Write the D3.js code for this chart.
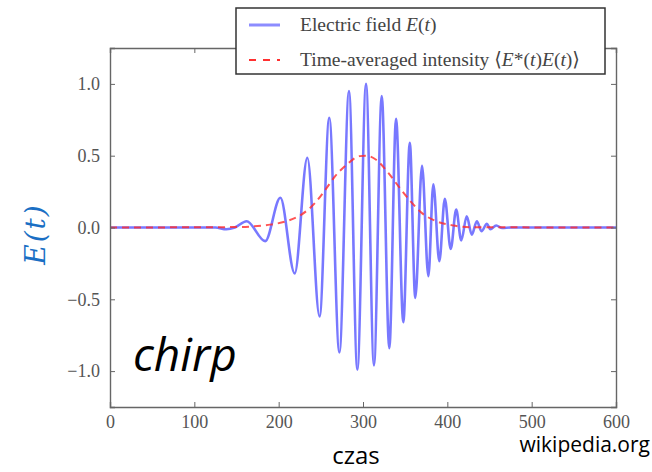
<!DOCTYPE html>
<html>
<head>
<meta charset="utf-8">
<script src="https://cdn.jsdelivr.net/npm/d3@7"></script>
<style>
    body { margin: 0; background: #fff; }
    svg { display: block; }
    .tick-label { font-family: "Liberation Serif", "DejaVu Serif", serif; font-size: 18px; fill: #555; }
    .legend-text { font-family: "Liberation Serif", "DejaVu Serif", serif; font-size: 19.5px; fill: #444; }
</style>
</head>
<body>
<svg id="vis_svg" width="652" height="472"></svg>
<script>
// electric field at the peaks and troughs
let fieldTimes = [0, 100, 125, 138, 148, 162, 184, 202, 219, 234, 248.5, 260, 272, 283.4, 293.3, 303.6,
    313, 322.2, 331.2, 339.2, 347.8, 355.5, 362, 370, 377.5, 383.4, 390.5, 397, 404, 410.5, 416.5, 423,
    429, 435, 440.5, 447, 451, 458, 465, 475, 600];
let fieldValues = [0, 0, 0, -0.012, 0.0, 0.044, -0.095, 0.207, -0.32, 0.486, -0.62, 0.764, -0.87, 0.95, -0.99, 1.0,
    -0.96, 0.915, -0.84, 0.757, -0.66, 0.59, -0.49, 0.43, -0.34, 0.30, -0.235, 0.20, -0.15, 0.125, -0.09, 0.078,
    -0.05, 0.044, -0.026, 0.026, -0.012, 0.014, -0.004, 0, 0];

// time-averaged intensity (red dashed)
let intensityTimes = [0, 150, 175, 190, 210, 227, 243, 255, 267, 281, 296, 304, 316, 330, 344, 356, 370, 387, 407, 430, 600];
let intensityValues = [0, 0.003, 0.01, 0.02, 0.045, 0.09, 0.17, 0.26, 0.357, 0.44, 0.497, 0.5, 0.47, 0.38, 0.272, 0.185, 0.10, 0.044, 0.014, 0.002, 0];

let xTicks = [0, 100, 200, 300, 400, 500, 600];
let yTicks = [-1.0, -0.5, 0.0, 0.5, 1.0];

let svg;
let x;
let y;

/**
 * Set up scales, then draw everything
 */
function drawVis() {
    svg = d3.select('svg#vis_svg');

    let left = 110, right = 616, top = 48, bottom = 407;

    x = d3.scaleLinear().domain([0, 600]).range([left, right]);
    y = d3.scaleLinear().domain([-1.25, 1.25]).range([bottom, top]);

    let plot = svg.append('g').attr('id', 'plot');

    // curves, clipped to the frame
    svg.append('clipPath').attr('id', 'clip')
        .append('rect')
        .attr('x', left).attr('y', top)
        .attr('width', right - left).attr('height', bottom - top);

    let curves = plot.append('g').attr('clip-path', 'url(#clip)');

    let line = d3.line()
        .curve(d3.curveMonotoneX)
        .x(d => x(d[0]))
        .y(d => y(d[1]));

    let field = fieldTimes.map((t, i) => [t, fieldValues[i]]);
    let intensity = intensityTimes.map((t, i) => [t, intensityValues[i]]);

    curves.append('path')
        .attr('d', line(field))
        .attr('fill', 'none')
        .attr('stroke', '#3030ff')
        .attr('stroke-opacity', 0.65)
        .attr('stroke-width', 2.6);

    curves.append('path')
        .attr('d', line(intensity))
        .attr('fill', 'none')
        .attr('stroke', '#ff2a2a')
        .attr('stroke-opacity', 0.8)
        .attr('stroke-width', 2)
        .attr('stroke-dasharray', '7,5');

    // axes, ticks point inward on all four sides (matplotlib classic)
    let tickLen = 5;
    let frameColor = '#666';

    let bottomAxis = plot.append('g').attr('transform', translate(0, bottom))
        .call(d3.axisBottom(x).tickValues(xTicks).tickSize(-tickLen).tickPadding(8).tickFormat(d3.format('d')));
    let topAxis = plot.append('g').attr('transform', translate(0, top))
        .call(d3.axisTop(x).tickValues(xTicks).tickSize(-tickLen).tickFormat(''));
    let leftAxis = plot.append('g').attr('transform', translate(left, 0))
        .call(d3.axisLeft(y).tickValues(yTicks).tickSize(-tickLen).tickPadding(10).tickFormat(d3.format('.1f')));
    let rightAxis = plot.append('g').attr('transform', translate(right, 0))
        .call(d3.axisRight(y).tickValues(yTicks).tickSize(-tickLen).tickFormat(''));

    [bottomAxis, topAxis, leftAxis, rightAxis].forEach(function(a) {
        a.select('.domain').attr('stroke', frameColor).attr('stroke-width', 1.4);
        a.selectAll('.tick line').attr('stroke', frameColor).attr('stroke-width', 1);
        a.selectAll('.tick text').attr('class', 'tick-label').attr('font-family', null).attr('font-size', null);
    });

    drawLegend(svg);

    // labels
    svg.append('text')
        .attr('transform', translate(45, 234) + ' rotate(-90)')
        .attr('text-anchor', 'middle')
        .style('font-family', '"DejaVu Serif", "Liberation Serif", serif')
        .style('font-style', 'italic')
        .style('font-size', '28px')
        .style('letter-spacing', '2px')
        .style('fill', '#1a6fc4')
        .text('E(t)');

    svg.append('text')
        .attr('x', 133).attr('y', 371)
        .style('font-family', '"Open Sans", "Noto Sans", sans-serif')
        .style('font-style', 'italic')
        .style('font-size', '46px')
        .style('fill', '#000')
        .text('chirp');

    svg.append('text')
        .attr('x', 356).attr('y', 464)
        .attr('text-anchor', 'middle')
        .style('font-family', '"Open Sans", "Noto Sans", sans-serif')
        .style('font-size', '24px')
        .style('fill', '#000')
        .text('czas');

    svg.append('text')
        .attr('x', 650).attr('y', 452)
        .attr('text-anchor', 'end')
        .style('font-family', '"Open Sans", "Noto Sans", sans-serif')
        .style('font-size', '21px')
        .style('fill', '#000')
        .text('wikipedia.org');
}

/**
 * Legend box sitting across the top of the frame
 * @param g where to draw it
 */
function drawLegend(g) {
    let legend = g.append('g').attr('id', 'legend');

    legend.append('rect')
        .attr('x', 236).attr('y', 8)
        .attr('width', 369).attr('height', 66)
        .attr('fill', '#fff')
        .attr('stroke', '#333')
        .attr('stroke-width', 1.5);

    legend.append('line')
        .attr('x1', 249).attr('x2', 280).attr('y1', 25).attr('y2', 25)
        .attr('stroke', '#8c8cff').attr('stroke-width', 3);
    legend.append('line')
        .attr('x1', 249).attr('x2', 280).attr('y1', 60).attr('y2', 60)
        .attr('stroke', '#ff3030').attr('stroke-width', 2)
        .attr('stroke-dasharray', '7,7');

    let t1 = legend.append('text').attr('class', 'legend-text').attr('x', 300).attr('y', 31);
    t1.append('tspan').text('Electric field ');
    t1.append('tspan').style('font-style', 'italic').text('E');
    t1.append('tspan').text('(');
    t1.append('tspan').style('font-style', 'italic').text('t');
    t1.append('tspan').text(')');

    let t2 = legend.append('text').attr('class', 'legend-text').attr('x', 300).attr('y', 66);
    t2.append('tspan').text('Time-averaged intensity \u27E8');
    t2.append('tspan').style('font-style', 'italic').text('E');
    t2.append('tspan').text('*(');
    t2.append('tspan').style('font-style', 'italic').text('t');
    t2.append('tspan').text(')');
    t2.append('tspan').style('font-style', 'italic').text('E');
    t2.append('tspan').text('(');
    t2.append('tspan').style('font-style', 'italic').text('t');
    t2.append('tspan').text(')\u27E9');
}

/**
 * translate helper
 */
function translate(a, b) {
    return 'translate(' + String(a) + ',' + String(b) + ')';
}

drawVis();
</script>
</body>
</html>
